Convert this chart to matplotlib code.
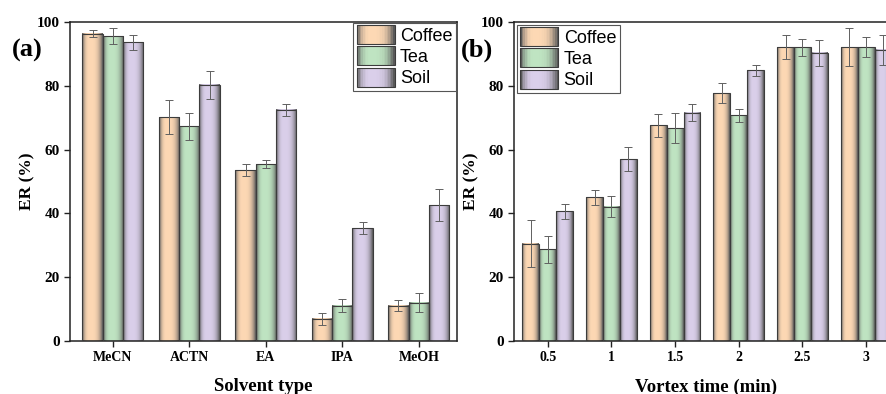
import numpy as np
import matplotlib.pyplot as plt
from matplotlib.patches import Patch, Rectangle
from matplotlib.legend_handler import HandlerBase
from matplotlib.colors import to_rgb

# data: extraction recovery (%) with standard deviations
series = ['Coffee', 'Tea', 'Soil']
colors = ['#fdd8b4', '#bfe4c2', '#dacfea']

solvents = ['MeCN', 'ACTN', 'EA', 'IPA', 'MeOH']
solv_coffee = [96.3, 70.2, 53.6, 7.0, 11.1]
solv_tea = [95.6, 67.3, 55.4, 11.1, 12.0]
solv_soil = [93.6, 80.3, 72.5, 35.3, 42.6]
solv_coffee_err = [1.1, 5.2, 1.8, 1.9, 1.6]
solv_tea_err = [2.6, 4.2, 1.3, 2.1, 3.0]
solv_soil_err = [2.4, 4.3, 1.9, 1.9, 5.1]

times = ['0.5', '1', '1.5', '2', '2.5', '3']
time_coffee = [30.5, 45.0, 67.6, 77.7, 92.1, 92.1]
time_tea = [28.7, 42.1, 66.7, 70.7, 92.1, 92.1]
time_soil = [40.7, 57.0, 71.6, 84.8, 90.3, 91.3]
time_coffee_err = [7.3, 2.4, 3.7, 3.2, 3.7, 5.9]
time_tea_err = [4.2, 3.3, 4.7, 1.9, 2.7, 3.1]
time_soil_err = [2.3, 3.7, 2.7, 1.8, 4.2, 4.7]

edge_dark = np.array(to_rgb('#5a5a5a'))


def shade_profile(base, n=40):
    # cylinder-like shading: dark rims, light body, light source a bit left
    t = np.linspace(0, 1, n)
    d = np.where(t < 0.4, (0.4 - t) / 0.4, (t - 0.4) / 0.6)
    w = np.clip(d, 0, 1) ** 3.2
    base = np.array(to_rgb(base))
    return base[None, :] * (1 - w[:, None]) + edge_dark[None, :] * w[:, None]


def shaded_bars(ax, x, vals, errs, width, color):
    bars = ax.bar(x, vals, width, facecolor='none', edgecolor='#3c3c3c',
                  linewidth=0.8, zorder=3)
    prof = shade_profile(color)[None, :, :]
    for b in bars:
        x0 = b.get_x()
        ax.imshow(prof, extent=[x0, x0 + b.get_width(), 0, b.get_height()],
                  aspect='auto', interpolation='bilinear', zorder=2)
    ax.errorbar(x, vals, yerr=errs, fmt='none', ecolor='#606060',
                elinewidth=0.7, capsize=3, capthick=0.7, zorder=4)


class ShadedHandler(HandlerBase):
    def create_artists(self, legend, orig_handle, xdescent, ydescent,
                       width, height, fontsize, trans):
        prof = shade_profile(orig_handle.get_facecolor(), n=24)
        n = len(prof)
        arts = []
        for i, c in enumerate(prof):
            r = Rectangle((-xdescent + width * i / n, -ydescent - 1),
                          width / n + 0.3, height + 2, facecolor=c,
                          edgecolor='none', transform=trans)
            arts.append(r)
        arts.append(Rectangle((-xdescent, -ydescent - 1), width, height + 2,
                              facecolor='none', edgecolor='#3c3c3c',
                              linewidth=0.8, transform=trans))
        return arts


def style_axes(ax, labels, xlabel, xlim):
    ax.set_ylim(0, 100)
    ax.set_xlim(*xlim)
    ax.set_yticks(range(0, 101, 20))
    ax.set_xticks(range(len(labels)))
    ax.set_xticklabels(labels)
    ax.tick_params(direction='out', length=4, width=1, color='#222')
    for lab in ax.get_xticklabels():
        lab.set_fontsize(10)
    for lab in ax.get_yticklabels():
        lab.set_fontsize(11)
    for lab in ax.get_xticklabels() + ax.get_yticklabels():
        lab.set_fontweight('bold')
    for s in ax.spines.values():
        s.set_linewidth(1.1)
        s.set_color('#222')
    ax.set_xlabel(xlabel, fontsize=13.5, fontweight='bold', labelpad=10)
    ax.set_ylabel('ER (%)', fontsize=12.5, fontweight='bold', labelpad=1)


plt.rcParams['font.family'] = ['Liberation Serif', 'DejaVu Serif']

fig = plt.figure(figsize=(8.86, 3.94), dpi=100)
W, H = 886, 394
ax1 = fig.add_axes([70 / W, 1 - 341 / H, (457 - 70) / W, (341 - 22) / H])
ax2 = fig.add_axes([514 / W, 1 - 341 / H, (898 - 514) / W, (341 - 22) / H])

width = 0.265
offs = [-width, 0, width]

x1 = np.arange(len(solvents))
for o, v, e, c in zip(offs, [solv_coffee, solv_tea, solv_soil],
                      [solv_coffee_err, solv_tea_err, solv_soil_err], colors):
    shaded_bars(ax1, x1 + o, v, e, width, c)
style_axes(ax1, solvents, 'Solvent type', (-0.56, 4.5))

x2 = np.arange(len(times))
for o, v, e, c in zip(offs, [time_coffee, time_tea, time_soil],
                      [time_coffee_err, time_tea_err, time_soil_err], colors):
    shaded_bars(ax2, x2 + o, v, e, width, c)
style_axes(ax2, times, 'Vortex time (min)', (-0.53, 5.5))

handles = [Patch(facecolor=c) for c in colors]
leg_kw = dict(handler_map={Patch: ShadedHandler()},
              prop={'family': ['Liberation Sans', 'DejaVu Sans'], 'size': 13},
              handlelength=2.1, handleheight=1.0, labelspacing=0.17,
              handletextpad=0.3, borderpad=0.2, fancybox=False,
              edgecolor='#555', framealpha=1)
l1 = ax1.legend(handles, series, loc='upper right', borderaxespad=0.05, **leg_kw)
l1.get_frame().set_linewidth(0.8)
l2 = ax2.legend(handles, series, loc='upper left', borderaxespad=0.15, **leg_kw)
l2.get_frame().set_linewidth(0.8)

fig.text(12 / W, 1 - 50 / H, '(a)', fontsize=19, fontweight='bold', va='center')
fig.text(461 / W, 1 - 50 / H, '(b)', fontsize=19, fontweight='bold', va='center')

fig.savefig('out.png', dpi=100)
